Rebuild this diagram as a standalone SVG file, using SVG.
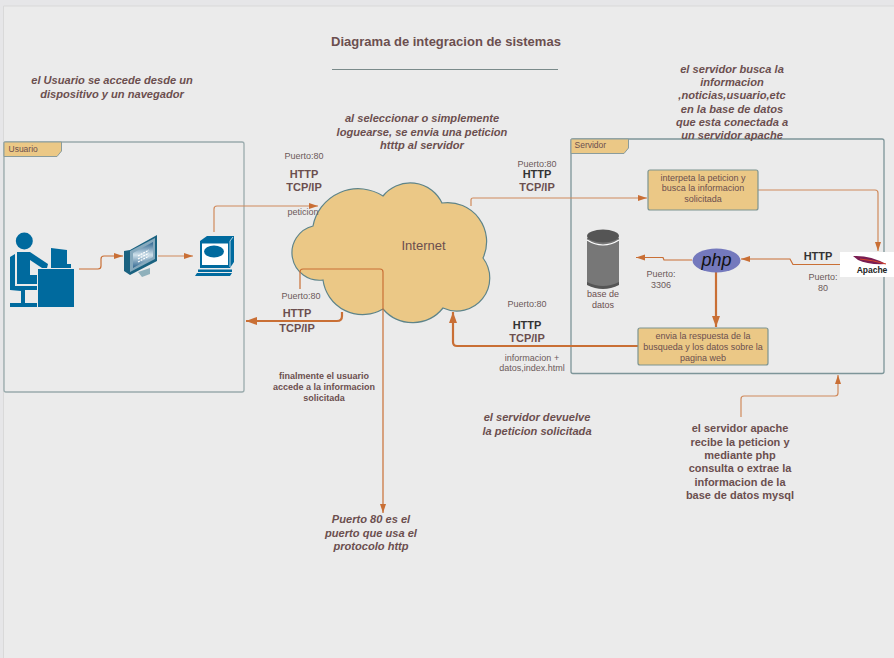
<svg xmlns="http://www.w3.org/2000/svg" width="894" height="658" viewBox="0 0 894 658">
<defs>
<marker id="a" markerUnits="userSpaceOnUse" markerWidth="10" markerHeight="7" refX="9" refY="3" orient="auto"><path d="M0 0L9 3L0 6Z" fill="#c96f35"/></marker>
<marker id="b" markerUnits="userSpaceOnUse" markerWidth="12" markerHeight="9" refX="11" refY="4" orient="auto"><path d="M0 0L11 4L0 8Z" fill="#c96f35"/></marker>
<linearGradient id="scr" x1="0" y1="0" x2="0" y2="1"><stop offset="0" stop-color="#2f6690"/><stop offset=".5" stop-color="#cfe0ea"/><stop offset="1" stop-color="#2f6690"/></linearGradient>
</defs>
<style>
text{font-family:"Liberation Sans",Arial,sans-serif;fill:#6b4f4f}
.t9{font-size:9px;text-anchor:middle}
.s{font-size:9px;fill:#6b5a5a;text-anchor:middle}
.h{font-size:11px;font-weight:bold;text-anchor:middle}
.i{font-size:11.100px;font-weight:bold;font-style:italic;text-anchor:middle}
.b{font-size:9px;font-weight:bold;text-anchor:middle}
.frame{fill:none;stroke-width:1.300}
.tab{fill:#ebc886;stroke:#8a9c9c;stroke-width:1}
.box{fill:#ebc886;stroke:#7d9490;stroke-width:1.200}
.c1{fill:none;stroke:#d08a5c;stroke-width:1.200;marker-end:url(#a)}
.c2{fill:none;stroke:#c96f35;stroke-width:1.200;marker-end:url(#a)}
.c3{fill:none;stroke:#c96f35;stroke-width:2.200;marker-end:url(#b)}
.ic{fill:#006a9e}
</style>
<rect width="894" height="658" fill="#ebebeb"/>
<path d="M0 0H894V6H3.500V658H0Z" fill="#e6e6e8"/>
<path d="M894 6H3.500V658" stroke="#d9d9d9" stroke-width="1" fill="none"/>
<g id="title">
<text x="446" y="46" font-size="13" font-weight="bold" text-anchor="middle">Diagrama de integracion de sistemas</text>
<path d="M332 69.500H558" stroke="#7a8a8a" stroke-width="1"/>
</g>
<g id="usuario-frame">
<rect class="frame" stroke="#9aabad" x="4" y="142" width="240" height="250" rx="2"/>
<path class="tab" d="M4 142H61.500V151L57 156.500H4Z"/>
<text x="8.500" y="152" font-size="8.500">Usuario</text>
</g>
<g id="servidor-frame">
<rect class="frame" stroke="#7d9599" x="571" y="139" width="313" height="234.500" rx="2"/>
<path class="tab" d="M571 139H628.500V148L624 153.500H571Z"/>
<text x="574.500" y="148" font-size="8.500">Servidor</text>
</g>
<g id="connectors-back">
<path class="c1" d="M214 232V209Q214 206 217 206H318"/>
<path class="c2" d="M79 269H98Q101 269 101 266V259Q101 256 104 256H123"/>
<path class="c1" d="M158 256H193"/>
</g>
<g id="internet">
<path d="M383 196A35 35 0 0 1 442 203A39 39 0 0 1 483 258A33 33 0 0 1 443 308A39 39 0 0 1 383 309A40 40 0 0 1 323 280A27.500 27.500 0 0 1 313 226A46 46 0 0 1 383 196Z" fill="#ebc886" stroke="#5e8489" stroke-width="1.200"/>
<text x="423.500" y="250" font-size="13" text-anchor="middle">Internet</text>
</g>
<g id="connectors">
<path class="c1" d="M471 206V200Q471 198 473 198H647"/>
<path d="M300 289V272Q300 269 303 269H380Q383 269 383 272" fill="none" stroke="#c96f35" stroke-width="1.200"/>
<path class="c2" d="M383 272V513"/>
<path class="c3" d="M342 312V316Q342 321 337 321H246"/>
<path class="c3" d="M638 346H457Q453 346 453 342V312"/>
<path class="c1" d="M758 190H875Q878 190 878 193V251"/>
<path class="c2" d="M841 264.500H793L790 259H741"/>
<path class="c2" d="M692 260H664L663 257.500H636"/>
<path class="c3" d="M716 272V327"/>
<path class="c1" d="M741 417V399Q741 396 744 396H835Q838 396 838 393V375"/>
</g>
<g id="user-icon">
<circle class="ic" cx="24.300" cy="241" r="8.500"/>
<path class="ic" d="M17 252H30L48 264L47 268H42L30 260V275H37V284H17Z"/>
<path class="ic" d="M10 257L15 254V286H37V290H25V303H37V307H10V303H21V291L10 290Z"/>
<path class="ic" d="M38 269H74V307H38Z"/>
<path class="ic" d="M51 248L67 250V264H71V268H51Z"/>
</g>
<g id="monitor-icon">
<path d="M138 272L150 268V274L142 277Z" fill="#8fb0bb"/>
<path d="M124 251L130 250L157 235V261L130 275L124 271Z" fill="#1a6280"/>
<path d="M130 251L155 238V259L130 272Z" fill="#86a9bd"/>
<path d="M133 253L153 242V257L133 268Z" fill="url(#scr)"/>
<path d="M138 256L149 250M138 259L149 253M138 262L149 256" stroke="#fff" stroke-width="1.200" stroke-dasharray="2 1"/>
</g>
<g id="terminal-icon">
<path class="ic" d="M200 241L207 236H234V262L230 268H200Z"/>
<path d="M230 241L233 237M230 241V267" stroke="#fff" stroke-width=".7" fill="none"/>
<rect x="202" y="243.500" width="26" height="21.500" fill="#fff"/>
<ellipse class="ic" cx="214" cy="251.500" rx="10" ry="6"/>
<path class="ic" d="M198 269.500H232V272H198ZM197 273H232L230 276H195Z"/>
</g>
<g id="db">
<path d="M587 238V284Q603 292 619 284V238Z" fill="#777"/>
<ellipse cx="603" cy="236" rx="16" ry="6.500" fill="#555"/>
<path d="M587 240Q603 250 619 240" fill="none" stroke="#fff" stroke-width="1.200"/>
<path d="M587 282Q603 290 619 282V285Q603 293 587 285Z" fill="#555"/>
<text class="t9" x="603" y="297">base de</text>
<text class="t9" x="603" y="308">datos</text>
</g>
<g id="php">
<ellipse cx="716.500" cy="260.500" rx="24" ry="12" fill="#7479bd"/>
<text x="716.500" y="266" font-size="18" font-style="italic" text-anchor="middle" style="fill:#111">php</text>
</g>
<g id="apache">
<rect x="840" y="252" width="54" height="25" fill="#fff"/>
<path d="M853 256Q870 255 886 264Q868 265 858 260Z" fill="#7a1d52"/>
<path d="M860 259Q872 260 886 264" stroke="#d8462b" fill="none" stroke-width="1"/>
<text x="872" y="272.500" font-size="8.500" font-weight="bold" text-anchor="middle" style="fill:#222">Apache</text>
</g>
<g id="box-interpreta">
<rect class="box" x="648" y="170" width="110" height="40" rx="2"/>
<text class="t9" x="703" y="181">interpeta la peticion y</text>
<text class="t9" x="703" y="191">busca la informacion</text>
<text class="t9" x="703" y="202">solicitada</text>
</g>
<g id="box-respuesta">
<rect class="box" x="638" y="328" width="130" height="37" rx="2"/>
<text class="t9" x="703" y="339">envia la respuesta de  la</text>
<text class="t9" x="703" y="350">busqueda y los datos sobre la</text>
<text class="t9" x="703" y="361">pagina web</text>
</g>
<g id="labels">
<text class="i" x="112" y="84">el Usuario se accede desde un</text>
<text class="i" x="112" y="98">dispositivo y  un navegador</text>
<text class="i" x="422" y="122">al seleccionar o simplemente</text>
<text class="i" x="422" y="136">loguearse, se envia una peticion</text>
<text class="i" x="422" y="149">htttp al servidor</text>
<text class="i" x="732" y="73">el servidor busca la</text>
<text class="i" x="732" y="86">informacion</text>
<text class="i" x="732" y="99">,noticias,usuario,etc</text>
<text class="i" x="732" y="113">en la base de datos</text>
<text class="i" x="732" y="126">que esta conectada a</text>
<text class="i" x="732" y="139">un servidor apache</text>
<text class="s" x="304" y="159">Puerto:80</text>
<text class="h" x="304" y="178">HTTP</text>
<text class="h" x="304" y="191">TCP/IP</text>
<text class="s" x="303" y="215">peticion</text>
<text class="s" x="537" y="167">Puerto:80</text>
<text class="h" x="537" y="178" style="fill:#333">HTTP</text>
<text class="h" x="537" y="191">TCP/IP</text>
<text class="s" x="301" y="299">Puerto:80</text>
<text class="h" x="297" y="317">HTTP</text>
<text class="h" x="297" y="332">TCP/IP</text>
<text class="s" x="527" y="307">Puerto:80</text>
<text class="h" x="527" y="329" style="fill:#333">HTTP</text>
<text class="h" x="527" y="342">TCP/IP</text>
<text class="s" x="532" y="361">informacion +</text>
<text class="s" x="532" y="371">datos,index.html</text>
<text class="s" x="661" y="277">Puerto:</text>
<text class="s" x="661" y="288">3306</text>
<text class="h" x="818" y="260" style="fill:#333">HTTP</text>
<text class="s" x="823" y="280">Puerto:</text>
<text class="s" x="823" y="291">80</text>
<text class="b" x="324" y="379">finalmente el usuario</text>
<text class="b" x="324" y="390">accede a la informacion</text>
<text class="b" x="324" y="401">solicitada</text>
<text class="i" x="537" y="421">el servidor devuelve</text>
<text class="i" x="537" y="435">la peticion solicitada</text>
<text class="i" x="371" y="523">Puerto 80 es el</text>
<text class="i" x="371" y="537">puerto que usa el</text>
<text class="i" x="371" y="550">protocolo http</text>
<text class="h" x="740" y="432">el servidor apache</text>
<text class="h" x="740" y="446">recibe la peticion y</text>
<text class="h" x="740" y="459">mediante php</text>
<text class="h" x="740" y="472">consulta o extrae la</text>
<text class="h" x="740" y="486">informacion de la</text>
<text class="h" x="740" y="499">base de datos mysql</text>
</g>
</svg>
